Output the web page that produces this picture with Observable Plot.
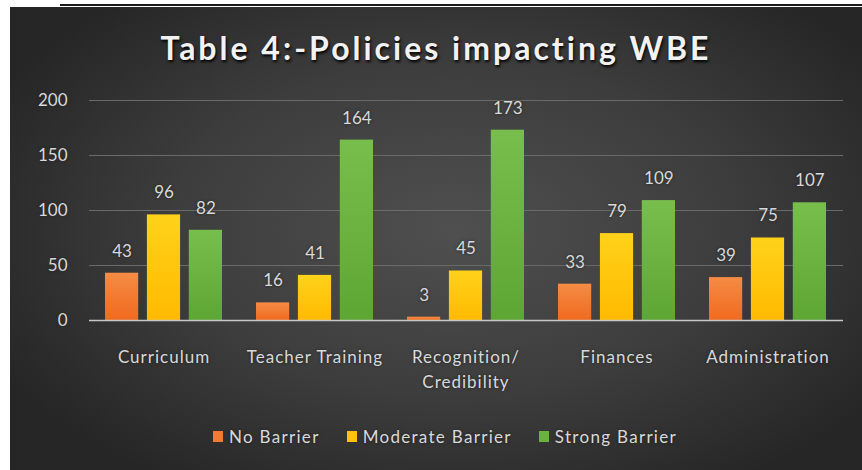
<!DOCTYPE html>
<html>
<head>
<meta charset="utf-8">
<script src="https://cdn.jsdelivr.net/npm/d3@7"></script>
<script src="https://cdn.jsdelivr.net/npm/@observablehq/plot@0.6"></script>
<style>
  html, body { margin: 0; padding: 0; background: #ffffff; width: 862px; height: 470px; overflow: hidden; }
  #topline { position: absolute; left: 60px; top: 4px; right: 0; height: 2px; background: #1a1a1a; }
  #panel {
    position: absolute; left: 10px; top: 7px; right: 0; bottom: 0; min-width: 852px;
    background: radial-gradient(ellipse 60% 65% at 52% 48%, #4f4f4f 0%, #3d3d3d 55%, #262626 100%);
    font-family: Lato, "Open Sans", sans-serif;
  }
  #title {
    position: absolute; left: 0; width: 852px; top: 21px; text-align: center;
    font-size: 32px; line-height: 40px; font-weight: 700; letter-spacing: 3px;
    color: #f2f2f2; text-shadow: 1px 2px 3px #000;
  }
  #chart { position: absolute; left: 0; top: 73px; }
  #chart svg text { text-shadow: 0 0 3px #222; }
  #chart svg g[aria-label="x-axis tick label"] text { letter-spacing: 1px; }
  #legend {
    position: absolute; top: 419px; left: 203px; display: flex; align-items: center;
    font-size: 17px; color: #d9d9d9; text-shadow: 0 0 3px #222; letter-spacing: 1.3px;
  }
  .item { display: flex; align-items: center; margin-right: 27px; }
  .sw { width: 10px; height: 11px; margin-right: 6px; }
</style>
</head>
<body>
<div id="topline"></div>
<div id="panel">
  <div id="title">Table 4:-Policies impacting WBE</div>
  <div id="chart"></div>
  <div id="legend"></div>
</div>
<script>
const categories = ["Curriculum", "Teacher Training", "Recognition/\nCredibility", "Finances", "Administration"];
const seriesNames = ["No Barrier", "Moderate Barrier", "Strong Barrier"];
const noBarrier = [43, 16, 3, 33, 39];
const moderateBarrier = [96, 41, 45, 79, 75];
const strongBarrier = [82, 164, 173, 109, 107];
const yTicks = [0, 50, 100, 150, 200];
const colors = ["#F37A2E", "#FFC10E", "#6AB33F"];

const seriesValues = [noBarrier, moderateBarrier, strongBarrier];
const seriesData = seriesNames.map((s, j) => categories.map((c, i) => ({category: c, series: s, value: seriesValues[j][i]})));

const gradIds = ["gNo", "gMod", "gStr"];
const gradStops = [["#F58C45", "#F06A1E"], ["#FFD21A", "#FFBA00"], ["#78BE4C", "#5EA634"]];

// layout of the grouped bars inside each category band
const W = 852, mL = 79, mR = 19;
const padIn = 0.223, padOut = 0.1, gap = 8;
const step = (W - mL - mR) / (categories.length - padIn + 2 * padOut);
const bw = step * (1 - padIn);
const barW = (bw - 2 * gap) / 3;

const marks = [
  Plot.gridY(yTicks.slice(1), {stroke: "#6a6a6a", strokeOpacity: 1, strokeWidth: 1}),
];
seriesNames.forEach((s, j) => {
  const left = j * (barW + gap);
  const right = bw - left - barW;
  marks.push(Plot.barY(seriesData[j], {x: "category", y: "value", fill: `url(#${gradIds[j]})`, insetLeft: left, insetRight: right}));
});
marks.push(Plot.ruleY([0], {stroke: "#c8c8c8", strokeWidth: 1.5}));
seriesNames.forEach((s, j) => {
  marks.push(Plot.text(seriesData[j], {x: "category", y: "value", text: d => String(d.value), dx: (j - 1) * (barW + gap), dy: -22, fill: "#d9d9d9", fontSize: 17}));
});
marks.push(Plot.axisY(yTicks, {tickSize: 0, tickPadding: 22, label: null, fill: "#d9d9d9", fontSize: 17}));
marks.push(Plot.axisX({anchor: "bottom", tickSize: 0, tickPadding: 24, label: null, lineHeight: 1.5, fill: "#d9d9d9", fontSize: 17}));

const chart = Plot.plot({
  width: W,
  height: 320,
  marginLeft: mL,
  marginRight: mR,
  marginTop: 20,
  marginBottom: 80,
  style: {background: "transparent", color: "#d9d9d9", fontFamily: "Lato, 'Open Sans', sans-serif", fontSize: "17px", overflow: "visible"},
  x: {domain: categories, paddingInner: padIn, paddingOuter: padOut, label: null},
  y: {domain: [0, 200], label: null},
  marks
});

const svg = d3.select(chart.tagName.toLowerCase() === "svg" ? chart : chart.querySelector("svg"));
const defs = svg.insert("defs", ":first-child");
gradIds.forEach((id, k) => {
  const g = defs.append("linearGradient").attr("id", id).attr("x1", 0).attr("y1", 0).attr("x2", 0).attr("y2", 1);
  g.append("stop").attr("offset", "0%").attr("stop-color", gradStops[k][0]);
  g.append("stop").attr("offset", "100%").attr("stop-color", gradStops[k][1]);
});
document.getElementById("chart").appendChild(chart);

const legend = d3.select("#legend");
seriesNames.forEach((s, j) => {
  const it = legend.append("div").attr("class", "item");
  it.append("div").attr("class", "sw").style("background", colors[j]);
  it.append("span").text(s);
});
</script>
</body>
</html>
